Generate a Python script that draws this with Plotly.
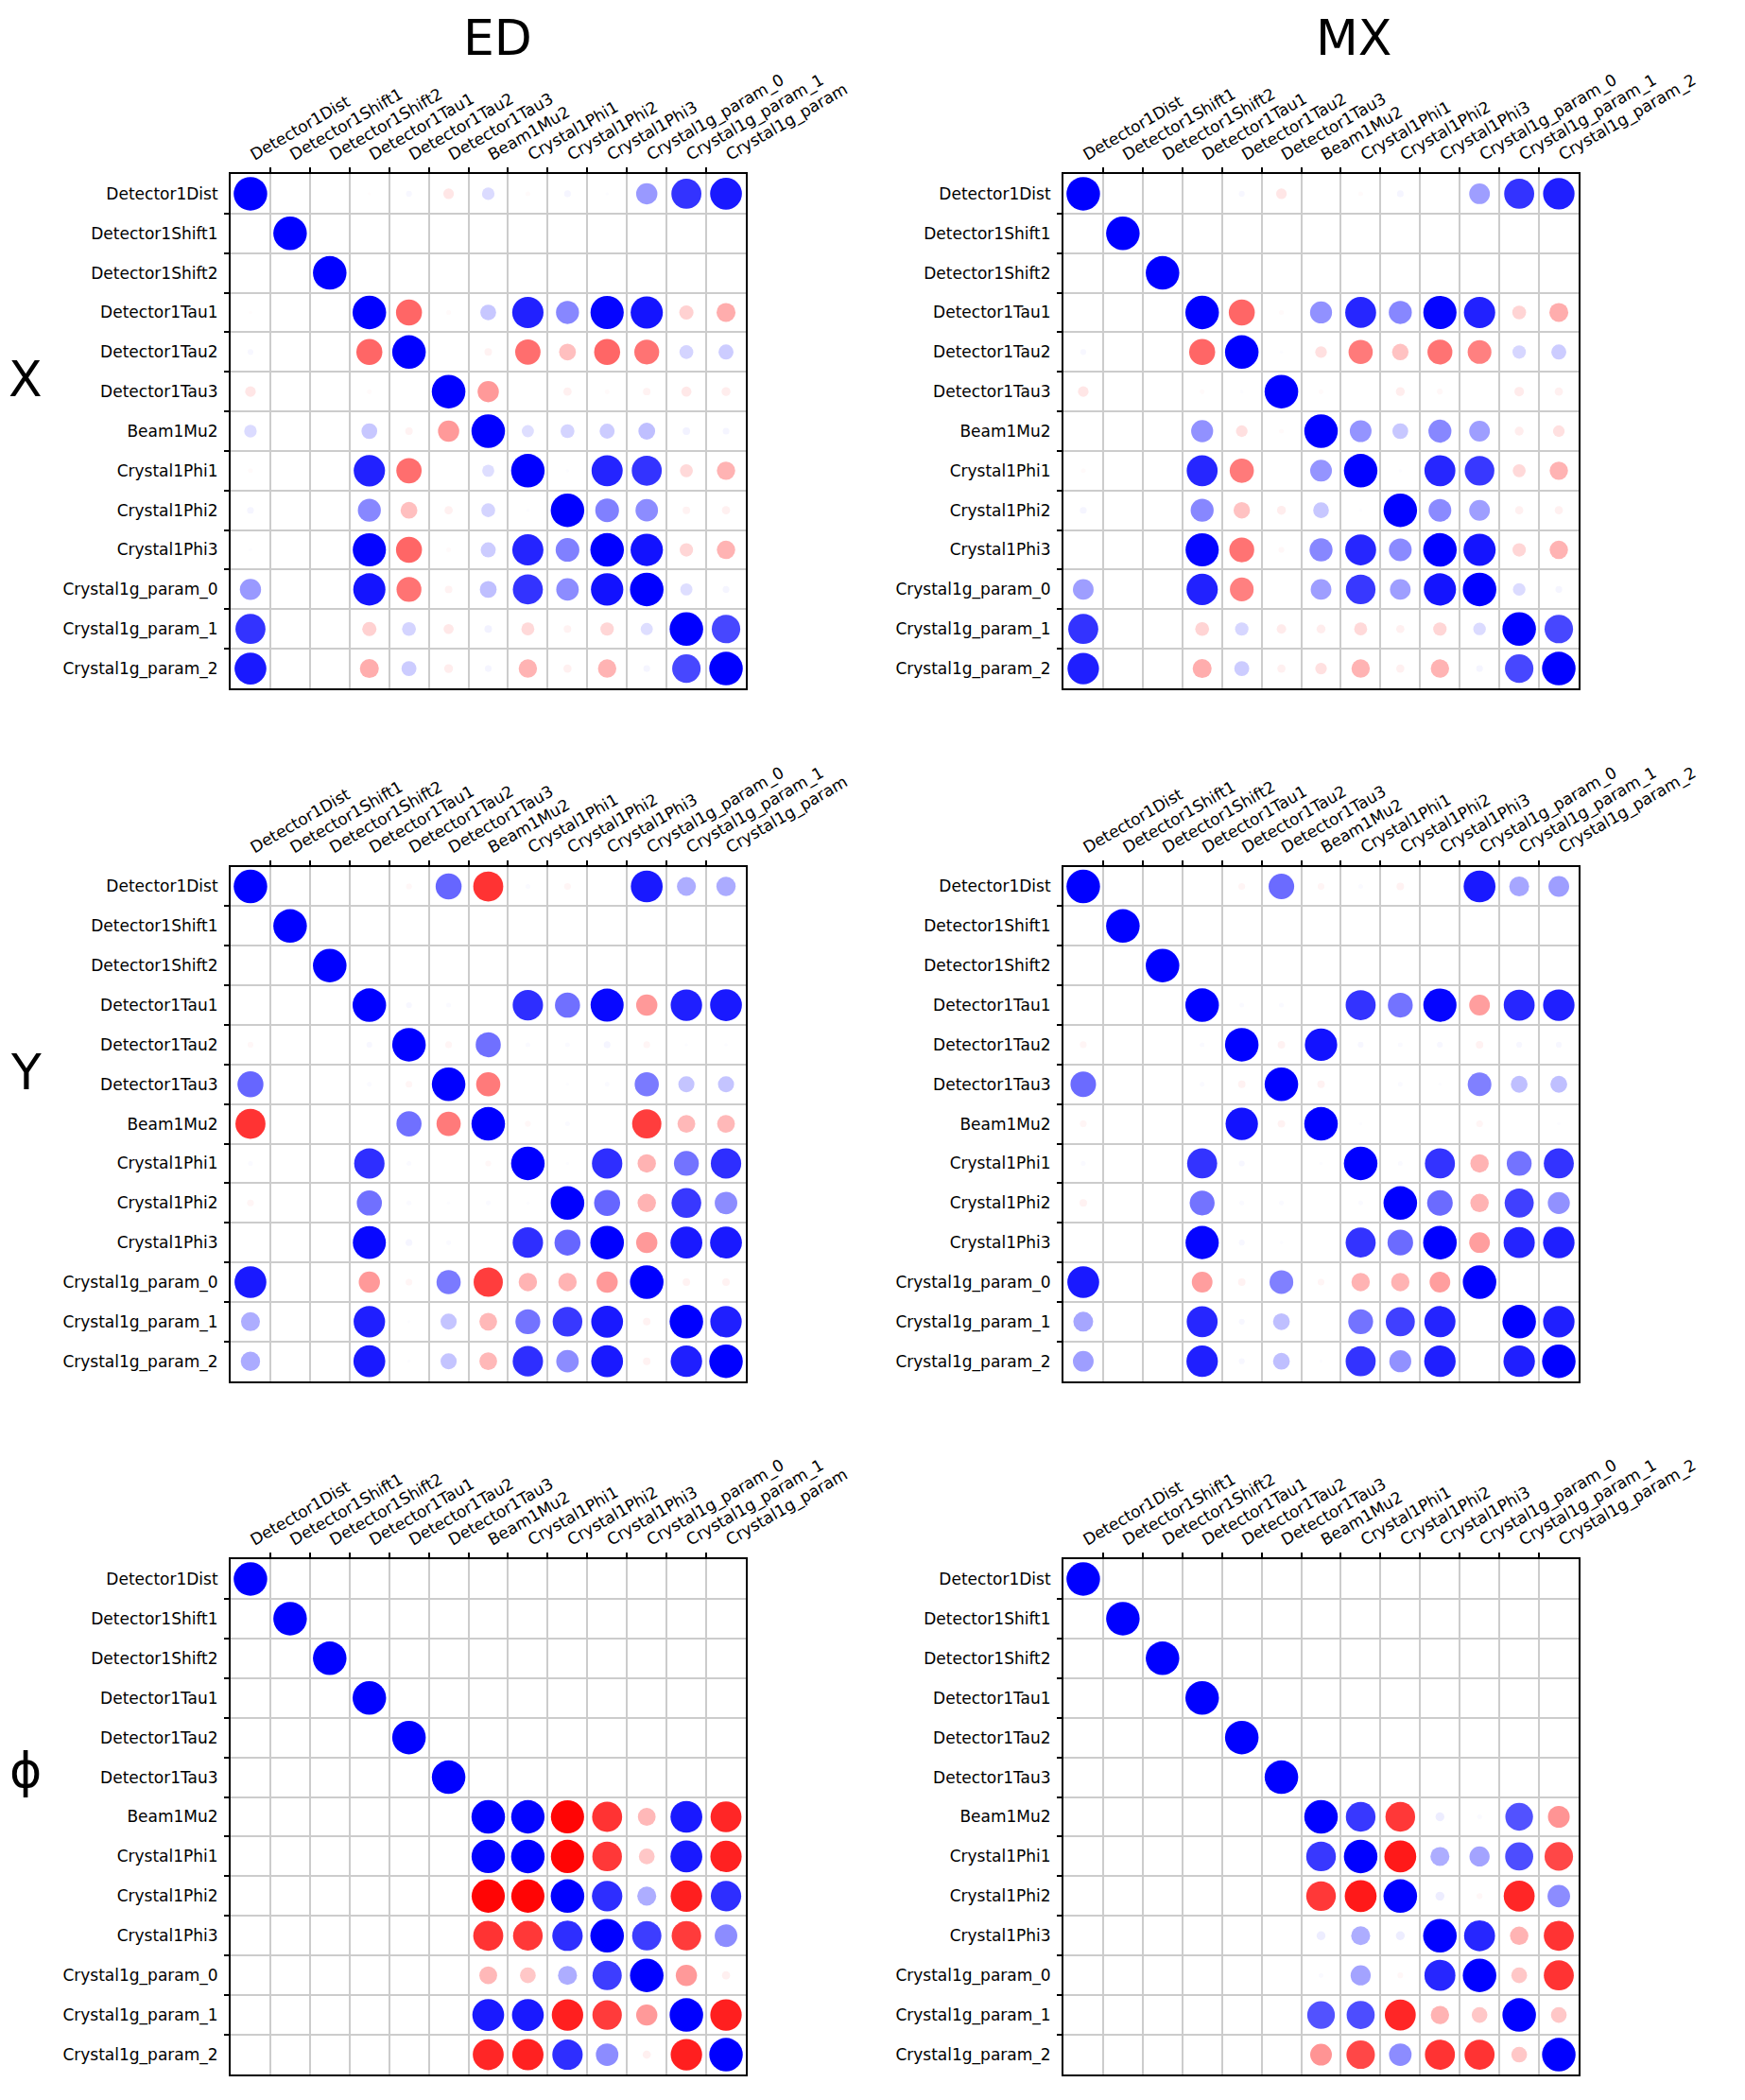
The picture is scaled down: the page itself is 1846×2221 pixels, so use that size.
import numpy as np
import plotly.graph_objects as go

labels = ["Detector1Dist", "Detector1Shift1", "Detector1Shift2", "Detector1Tau1",
          "Detector1Tau2", "Detector1Tau3", "Beam1Mu2", "Crystal1Phi1", "Crystal1Phi2",
          "Crystal1Phi3", "Crystal1g_param_0", "Crystal1g_param_1", "Crystal1g_param_2"]
labels_ed_top = labels[:-1] + ["Crystal1g_param"]

col_titles = ["ED", "MX"]
row_titles = ["X", "Y", "ϕ"]

# upper triangles (row i, columns i+1..12); diagonal = 1
ed_x_upper = [
    [0, 0, -0.01, 0.03, -0.1, 0.14, -0.02, 0.04, 0.01, 0.4, 0.8, 0.9],
    [0] * 11,
    [0] * 10,
    [-0.6, -0.02, 0.22, 0.87, 0.47, 0.98, 0.92, -0.18, -0.32],
    [0.0, -0.05, -0.57, -0.25, -0.6, -0.55, 0.17, 0.2],
    [-0.4, 0.0, -0.06, -0.02, -0.05, -0.09, -0.07],
    [0.13, 0.17, 0.2, 0.25, 0.05, 0.04],
    [0.01, 0.86, 0.8, -0.15, -0.3],
    [0.5, 0.45, -0.05, -0.06],
    [0.93, -0.16, -0.3],
    [0.13, 0.04],
    [0.72],
]
mx_x_upper = [
    [0, 0, 0, 0.03, -0.1, 0, -0.02, 0.04, 0, 0.38, 0.8, 0.88],
    [0] * 11,
    [0] * 10,
    [-0.6, -0.02, 0.43, 0.85, 0.47, 0.98, 0.87, -0.17, -0.32],
    [0.01, -0.12, -0.52, -0.24, -0.55, -0.5, 0.16, 0.2],
    [-0.02, 0, -0.07, -0.03, 0, -0.08, -0.06],
    [0.42, 0.22, 0.47, 0.38, -0.07, -0.12],
    [0.01, 0.85, 0.78, -0.15, -0.3],
    [0.46, 0.38, -0.06, -0.06],
    [0.92, -0.16, -0.3],
    [0.14, 0.04],
    [0.72],
]
ed_y_upper = [
    [0, 0, 0, -0.03, 0.6, -0.8, 0.02, -0.04, 0, 0.9, 0.32, 0.33],
    [0] * 11,
    [0] * 10,
    [0.03, 0.02, 0, 0.82, 0.56, 0.97, -0.4, 0.88, 0.9],
    [-0.04, 0.56, 0.02, 0.02, 0.04, -0.04, 0.01, 0.01],
    [-0.52, 0, 0.01, 0.02, 0.52, 0.23, 0.23],
    [-0.03, 0.02, 0, -0.76, -0.28, -0.28],
    [0.01, 0.82, -0.3, 0.55, 0.82],
    [0.6, -0.3, 0.78, 0.45],
    [-0.4, 0.9, 0.9],
    [-0.05, -0.05],
    [0.88],
]
mx_y_upper = [
    [0, 0, 0, -0.04, 0.58, -0.04, 0.02, -0.05, 0, 0.9, 0.35, 0.38],
    [0] * 11,
    [0] * 10,
    [0.02, 0.02, 0, 0.8, 0.55, 0.98, -0.38, 0.85, 0.88],
    [-0.05, 0.93, 0.03, 0.02, 0.03, -0.05, 0.03, 0.03],
    [-0.05, 0, 0.02, 0.01, 0.5, 0.25, 0.25],
    [0.01, 0, 0, -0.04, 0, 0.01],
    [0.02, 0.8, -0.3, 0.55, 0.8],
    [0.58, -0.3, 0.75, 0.43],
    [-0.38, 0.86, 0.88],
    [0, 0],
    [0.88],
]
ed_phi_upper = [
    [0] * 12,
    [0] * 11,
    [0] * 10,
    [0] * 9,
    [0] * 8,
    [0] * 7,
    [0.99, -0.98, -0.8, -0.28, 0.9, -0.85],
    [-0.98, -0.78, -0.22, 0.9, -0.87],
    [0.82, 0.32, -0.88, 0.82],
    [0.76, -0.77, 0.45],
    [-0.4, -0.06],
    [-0.88],
]
mx_phi_upper = [
    [0] * 12,
    [0] * 11,
    [0] * 10,
    [0] * 9,
    [0] * 8,
    [0] * 7,
    [0.78, -0.78, 0.07, 0.02, 0.68, -0.42],
    [-0.9, 0.32, 0.36, 0.7, -0.72],
    [0.07, -0.03, -0.85, 0.45],
    [0.85, -0.3, -0.8],
    [-0.22, -0.8],
    [-0.22],
]

panels = [[ed_x_upper, mx_x_upper], [ed_y_upper, mx_y_upper], [ed_phi_upper, mx_phi_upper]]


def build(upper):
    n = len(labels)
    m = np.eye(n)
    for i, row in enumerate(upper):
        for k, v in enumerate(row):
            j = i + 1 + k
            m[i, j] = v
            m[j, i] = v
    return m


W, H = 1846, 2221
OFF = 8  # page body margin
x_px = [(244 - OFF, 789 - OFF), (1125 - OFF, 1670 - OFF)]
y_px = [(184 - OFF, 728 - OFF), (916.6 - OFF, 1460.6 - OFF), (1649 - OFF, 2194 - OFF)]
DMAX = 35.5
FONT = "DejaVu Sans"
cscale = [[0, "rgb(255,0,0)"], [0.5, "rgb(255,255,255)"], [1, "rgb(0,0,255)"]]

fig = go.Figure()
layout = dict(width=W, height=H, margin=dict(l=0, r=0, t=0, b=0, autoexpand=False),
              paper_bgcolor="white", plot_bgcolor="white", showlegend=False)
n = len(labels)
idx = list(range(n))
bounds = [i + 0.5 for i in range(n - 1)]

for r in range(3):
    for c in range(2):
        p = r * 2 + c + 1
        m = build(panels[r][c])
        xs, ys, vs = [], [], []
        for i in range(n):
            for j in range(n):
                if m[i, j] != 0:
                    xs.append(j)
                    ys.append(i)
                    vs.append(m[i, j])
        vs = np.array(vs)
        sfx = "" if p == 1 else str(p)
        fig.add_trace(go.Scatter(
            x=xs, y=ys, mode="markers", xaxis="x" + sfx, yaxis="y" + sfx,
            marker=dict(size=DMAX * np.sqrt(np.abs(vs)), color=vs, cmin=-1, cmax=1,
                        colorscale=cscale, line=dict(width=0), opacity=1),
            hoverinfo="skip"))
        x0, x1 = x_px[c]
        y0, y1 = y_px[r]
        common = dict(showline=True, mirror=True, linecolor="black", linewidth=2,
                      zeroline=False, showgrid=False, ticks="", automargin=False,
                      tickfont=dict(family=FONT, size=17, color="black"),
                      tickmode="array", tickvals=idx,
                      minor=dict(tickmode="array", tickvals=bounds, ticks="outside",
                                 ticklen=5, tickwidth=1.5, tickcolor="black",
                                 showgrid=True, gridcolor="#cccccc", gridwidth=2))
        layout["xaxis" + sfx] = dict(common, domain=[x0 / W, x1 / W], range=[-0.5, n - 0.5],
                                     side="top", tickangle=-30,
                                     ticktext=labels_ed_top if c == 0 else labels,
                                     anchor="y" + sfx, ticklabelstandoff=4)
        layout["yaxis" + sfx] = dict(common, domain=[1 - y1 / H, 1 - y0 / H],
                                     range=[n - 0.5, -0.5], ticktext=labels,
                                     anchor="x" + sfx, ticklabelstandoff=8)

ann = []
for c, t in enumerate(col_titles):
    cx = [526 - OFF, 1432 - OFF][c]
    ann.append(dict(text=t, x=cx / W, y=1, xref="paper", yref="paper",
                    showarrow=False, xanchor="center", yanchor="top",
                    font=dict(family=FONT, size=52, color="black")))
for r, t in enumerate(row_titles):
    cy = [401 - OFF, 1134 - OFF, 1872 - OFF][r]
    ann.append(dict(text=t, x=19 / W, y=1 - cy / H, xref="paper", yref="paper",
                    showarrow=False, xanchor="center", yanchor="middle",
                    font=dict(family=FONT, size=52, color="black")))
layout["annotations"] = ann
fig.update_layout(**layout)
fig.write_html("out.html")
